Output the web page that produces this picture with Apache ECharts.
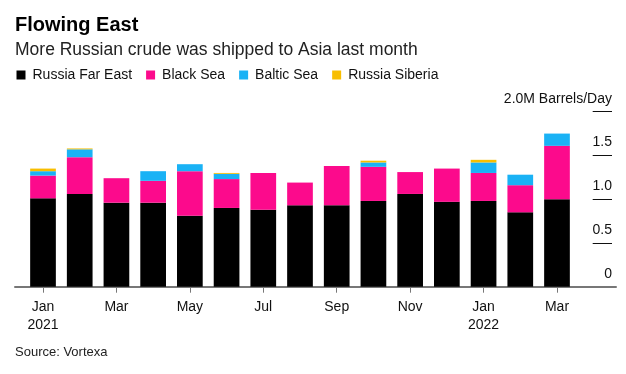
<!DOCTYPE html>
<html>
<head>
<meta charset="utf-8">
<script src="https://cdn.jsdelivr.net/npm/echarts@6/dist/echarts.min.js"></script>
<style>
html,body{margin:0;padding:0;background:#fff;}
#chart{width:626px;height:374px;}
</style>
</head>
<body>
<div id="chart"></div>
<script>
var months = ['Jan 2021','Feb 2021','Mar 2021','Apr 2021','May 2021','Jun 2021','Jul 2021','Aug 2021','Sep 2021','Oct 2021','Nov 2021','Dec 2021','Jan 2022','Feb 2022','Mar 2022'];
var russiaFarEast = [1.01,1.06,0.96,0.96,0.81,0.90,0.88,0.93,0.93,0.98,1.06,0.97,0.98,0.85,1.00];
var blackSea      = [0.26,0.42,0.28,0.25,0.51,0.33,0.42,0.26,0.45,0.39,0.25,0.38,0.32,0.31,0.61];
var balticSea     = [0.05,0.09,0,0.11,0.08,0.06,0,0,0,0.05,0,0,0.12,0.12,0.14];
var russiaSiberia = [0.03,0.01,0,0,0,0.01,0,0,0,0.02,0,0,0.03,0,0];
var yTicks = [0,0.5,1.0,1.5,2.0];

var FONT = "'Liberation Sans', Arial, Helvetica, sans-serif";
var chart = echarts.init(document.getElementById('chart'), null, {renderer:'canvas'});
var GT = 111.7, GB = 87.3;

function mkSeries(name, data, color){
  return {name:name, type:'bar', stack:'total', data:data, barWidth:'70%',
    xAxisIndex:0, yAxisIndex:0, itemStyle:{color:color}, emphasis:{disabled:true}};
}

chart.setOption({
  animation:false,
  backgroundColor:'#ffffff',
  textStyle:{fontFamily:FONT},
  title:[
    {text:'Flowing East', left:15, top:15, padding:0, textStyle:{fontFamily:FONT,fontSize:20,fontWeight:'bold',color:'#000',lineHeight:20}},
    {text:'More Russian crude was shipped to Asia last month', left:15, top:41, padding:0, textStyle:{fontFamily:FONT,fontSize:17.5,fontWeight:'normal',color:'#222',lineHeight:18}},
    {text:'Source: Vortexa', left:15, top:346, padding:0, textStyle:{fontFamily:FONT,fontSize:13,fontWeight:'normal',color:'#222',lineHeight:13}}
  ],
  legend:{
    left:16.5, top:68, padding:0, itemWidth:9, itemHeight:9, itemGap:14,
    icon:'rect', selectedMode:false,
    textStyle:{fontFamily:FONT,fontSize:14,color:'#111',padding:[0,0,0,2]},
    data:['Russia Far East','Black Sea','Baltic Sea','Russia Siberia']
  },
  grid:[
    {left:24.65, right:50.65, top:GT, bottom:GB},
    {left:592.7, right:14, top:GT, bottom:GB},
    {left:15, right:10, top:GT, bottom:GB}
  ],
  xAxis:[
    {type:'category', gridIndex:0, data:months,
      axisLine:{show:false},
      axisTick:{show:true, alignWithLabel:true, interval:1, length:6, lineStyle:{color:'#777',width:1}},
      axisLabel:{interval:1, margin:11, fontFamily:FONT, fontSize:14, color:'#111', lineHeight:18,
        formatter:function(v){var p=v.split(' '); return p[0]==='Jan' ? p[0]+'\n'+p[1] : p[0];}},
      splitLine:{show:false}},
    {type:'value', gridIndex:1, show:false, min:0, max:1},
    {type:'value', gridIndex:2, min:0, max:1,
      axisLine:{show:true, lineStyle:{color:'#777',width:2}},
      axisTick:{show:false}, axisLabel:{show:false}, splitLine:{show:false}}
  ],
  yAxis:[
    {type:'value', gridIndex:0, min:0, max:2, interval:0.5, show:false, splitLine:{show:false}},
    {type:'value', gridIndex:1, min:yTicks[0], max:yTicks[yTicks.length-1], interval:0.5, position:'right',
      axisLine:{show:false}, axisTick:{show:false},
      splitLine:{show:true, showMinLine:false, lineStyle:{color:'#111',width:1}},
      axisLabel:{inside:true, margin:0, fontFamily:FONT, fontSize:14, color:'#111',
        verticalAlign:'bottom', padding:[0,0,6,0], showMinLabel:true, showMaxLabel:true,
        formatter:function(v){ if(v===2) return '2.0M Barrels/Day'; if(v===0) return '0'; return v.toFixed(1);} }},
    {type:'value', gridIndex:2, show:false, min:0, max:1}
  ],
  series:[
    mkSeries('Russia Far East', russiaFarEast, '#000000'),
    mkSeries('Black Sea', blackSea, '#fc0a8c'),
    mkSeries('Baltic Sea', balticSea, '#1ab2f5'),
    mkSeries('Russia Siberia', russiaSiberia, '#f8be00')
  ]
});
</script>
</body>
</html>
